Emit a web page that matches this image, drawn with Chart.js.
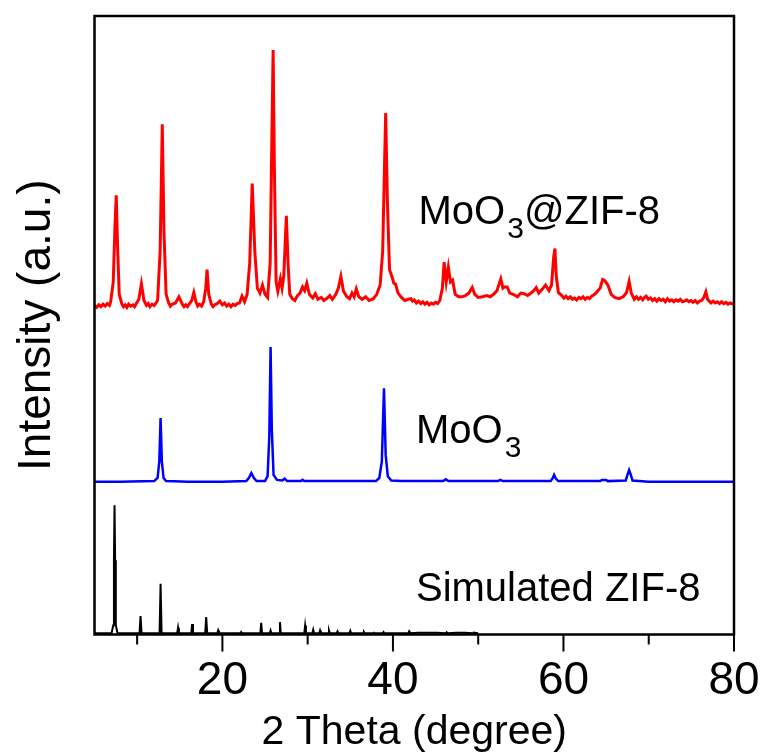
<!DOCTYPE html>
<html>
<head>
<meta charset="utf-8">
<script src="https://cdn.jsdelivr.net/npm/chart.js@4.4.1/dist/chart.umd.min.js"></script>
<style>
  html, body { margin: 0; padding: 0; background: #ffffff; }
  #wrap { width: 764px; height: 756px; }
</style>
</head>
<body>
<div id="wrap"><canvas id="xrd" width="764" height="756"></canvas></div>
<script>
"use strict";

// axis ticks (degrees)
var majorTicks = [20, 40, 60, 80];
var minorTicks = [10, 30, 50, 70];

// curve names, text and where the text sits (degree, intensity)
var labelParts = [
    [["MoO", ""], ["3", "sub"], ["@ZIF-8", ""]],
    [["MoO", ""], ["3", "sub"]],
    [["Simulated ZIF-8", ""]]
];
var labelAt = [[43.0, 66.4], [42.7, 31.0], [42.7, 5.4]];

// MoO3@ZIF-8 pattern, stacked on top  [2theta, intensity]
var mixPattern = [
    [5.0,53.2],[5.25,52.9],[5.5,53.3],[5.75,53.0],[6.0,53.4],[6.25,53.1],[6.5,53.5],[6.75,53.2],[6.9,53.8],
    [7.2,57],[7.4,66],[7.55,71],[7.7,63],[7.9,55],
    [8.2,53.5],[8.4,53.0],[8.6,53.3],[8.8,52.9],[9.0,53.4],[9.25,53.1],[9.5,53.3],[9.7,53.0],[9.9,53.5],
    [10.2,54.2],[10.5,56.7],[10.8,54],[11.1,53.2],[11.3,53.5],[11.5,53.0],[11.75,53.4],[12.0,53.2],
    [12.4,54],[12.7,62],[12.95,82.5],[13.15,65],[13.4,55],[13.7,53.6],[13.9,53.1],[14.1,53.4],
    [14.5,53.6],[14.9,54.6],[15.3,53.4],[15.5,53.0],[15.7,53.3],[15.9,53.0],[16.1,53.4],[16.4,54],[16.65,55.3],[16.9,53.8],
    [17.1,53.1],[17.3,53.4],[17.55,53.1],[17.8,53.8],[18.05,56],[18.2,59],[18.4,55],[18.7,53.4],[18.9,53.0],[19.1,53.3],
    [19.4,53.5],[19.7,53.9],
    [20.0,53.3],[20.25,53.6],[20.5,53.1],[20.75,53.4],[21.0,53.0],[21.25,53.4],[21.5,53.2],[21.75,53.5],[22.0,53.6],
    [22.3,54.7],[22.6,53.8],[22.9,55],[23.2,60],
    [23.5,72.9],[23.8,62],[24.1,56],[24.4,55.2],[24.7,56.5],[25.0,55],[25.3,54.5],[25.6,60],[25.8,80],
    [25.95,94.5],[26.1,75],[26.3,57],[26.5,55.5],[26.8,57.5],[27.0,56],[27.2,58],[27.5,67.7],[27.7,60],
    [27.9,55],[28.2,54.3],[28.5,54.0],[28.8,54.8],[29.1,55.2],[29.4,56.2],[29.65,55.6],[29.9,56.8],[30.2,55],
    [30.6,54.4],[30.9,55.1],[31.2,54.2],[31.6,54.5],[31.9,54.0],[32.3,54.4],[32.6,54.8],[32.9,54.2],[33.3,55],
    [33.6,56],[33.9,57.9],[34.2,55.5],[34.6,54.6],[34.9,54.3],[35.2,55.2],[35.45,54.6],[35.7,55.9],[36.0,54.6],
    [36.4,54.2],[36.8,54.6],[37.2,54.0],[37.7,54.3],[38.1,55],[38.5,56.5],[38.8,62],[39.0,75],[39.15,84.3],
    [39.35,70],[39.6,59],[39.9,57.8],[40.1,56.8],[40.3,56.7],[40.6,55.2],[41.0,54.5],[41.4,54.0],[41.8,54.2],
    [42.1,54.3],[42.3,53.9],[42.5,54.1],[42.75,53.6],[43.0,53.9],[43.25,53.5],[43.5,53.8],[43.75,53.4],[44.0,53.7],
    [44.25,53.3],[44.5,53.6],[44.75,53.4],[45.0,53.7],[45.25,53.5],[45.5,54],[45.8,56],
    [46.0,60.2],[46.25,57],[46.5,59.4],[46.75,57],[47.0,57.3],[47.3,55],[47.7,54.6],[48.1,54.6],[48.5,54.8],
    [48.9,55.2],[49.3,56.1],[49.6,55],[50.0,54.5],[50.5,54.6],[51.0,54.8],[51.4,54.6],[51.8,55],[52.2,55.6],
    [52.65,57.5],[52.9,56],[53.1,56.2],[53.4,56.2],[53.7,55.2],[54.1,55],[54.6,54.6],[55.0,55.2],[55.4,55.1],
    [55.8,54.8],[56.2,55.2],[56.5,55.6],[56.8,56.1],[57.1,55.2],[57.5,55.8],[57.9,56.5],[58.3,55.6],[58.6,56.5],
    [58.85,61],[59.0,62.4],[59.15,58],[59.4,55.3],
    [59.8,54.8],[60.05,54.4],[60.3,54.7],[60.55,54.3],[60.8,54.6],[61.05,54.2],[61.3,54.4],[61.55,54.1],[61.8,54.5],
    [62.05,54.3],[62.3,54.6],[62.55,54.2],[62.8,54.5],[63.05,54.3],[63.3,54.7],[63.55,54.9],[63.8,55.2],
    [64.3,56],[64.6,57.4],[64.85,57.2],[65.2,56.5],[65.6,55],
    [66.0,54.5],[66.5,54.3],[67.0,54.6],[67.4,55.3],[67.7,57.1],[67.95,55.2],
    [68.3,54.2],[68.55,54.6],[68.8,54.2],[69.05,54.5],[69.3,54.1],[69.5,54.5],[69.7,54.7],[69.95,54.2],[70.2,54.4],
    [70.45,54.0],[70.7,54.3],[70.95,53.9],[71.2,54.3],[71.45,54.0],[71.7,54.2],[71.95,53.8],[72.2,54.3],[72.45,53.9],
    [72.7,54.1],[72.95,53.8],[73.2,54.1],[73.45,53.9],[73.7,54.2],[73.95,53.8],[74.2,53.9],[74.45,54.1],[74.7,53.8],
    [74.95,54.0],[75.2,53.7],[75.45,54.0],[75.7,53.6],[75.95,53.9],[76.2,54.0],[76.5,54.6],[76.7,55.4],[76.9,54.2],
    [77.1,53.9],[77.3,53.6],[77.55,53.9],[77.8,53.6],[78.05,53.8],[78.3,53.5],[78.55,53.8],[78.8,53.5],[79.05,53.7],
    [79.3,53.4],[79.55,53.6],[80.0,53.4]
];

// MoO3 pattern, middle
var mooPattern = [
    [5.0,24.7],[8.0,24.7],[12.0,24.8],[12.4,25.3],[12.6,28],[12.75,35.0],[12.9,28],[13.1,25.3],[13.4,24.8],
    [16.0,24.7],[20.0,24.7],[22.8,24.8],[23.1,25.3],[23.4,26.1],[23.7,25.3],[24.0,24.8],[25.0,24.8],[25.3,25.6],
    [25.5,32],[25.65,46.5],[25.8,33],[26.0,25.8],[26.4,25.0],[27.0,24.9],[27.3,25.2],[27.6,24.8],[29.2,24.8],
    [29.4,25.0],[29.6,24.8],[38.0,24.8],[38.4,25.3],[38.7,28],[38.95,39.8],[39.15,29],[39.4,25.6],[39.8,24.9],
    [41.0,24.8],[45.9,24.8],[46.2,25.1],[46.5,24.8],[52.3,24.8],[52.6,25.0],[52.9,24.8],[58.5,24.8],[58.75,25.3],
    [58.9,25.8],[59.1,25.2],[59.4,24.8],[64.3,24.8],[64.5,25.0],[65.0,25.0],[65.2,24.8],[67.3,24.9],[67.55,26],
    [67.7,26.6],[67.9,25.8],[68.1,24.9],[70.0,24.7],[80.0,24.7]
];

// simulated ZIF-8 sticks, bottom
var simPattern = [
    [5.0,0.2],[7.0,0.2],[7.2,1.5],[7.28,12],[7.35,20.9],[7.42,12],[7.5,1.5],[7.7,0.2],
    [10.28,0.2],[10.4,3.0],[10.52,0.2],[12.63,0.2],[12.75,8.2],[12.87,0.2],[14.7,0.2],[14.8,1.1],[14.9,0.2],
    [16.35,0.2],[16.45,1.7],[16.55,0.2],[17.98,0.2],[18.1,2.8],[18.22,0.2],[19.4,0.2],[19.5,0.65],[19.6,0.2],
    [22.1,0.2],[22.2,0.4],[22.3,0.2],[24.45,0.2],[24.55,1.9],[24.65,0.2],[25.55,0.2],[25.65,0.65],[25.75,0.2],
    [26.65,0.2],[26.75,2.0],[26.85,0.2],[29.6,0.2],[29.7,1.45],[29.8,0.2],[30.55,0.2],[30.65,0.76],[30.75,0.2],
    [31.35,0.2],[31.45,0.65],[31.55,0.2],[32.4,0.2],[32.5,0.65],[32.6,0.2],[33.4,0.2],[33.5,0.5],[33.6,0.2],
    [34.9,0.2],[35.0,0.6],[35.1,0.2],[36.5,0.2],[36.6,0.4],[36.7,0.2],[37.7,0.2],[37.8,0.3],[37.9,0.2],
    [38.8,0.2],[38.9,0.4],[39.0,0.2],[41.8,0.2],[41.9,0.5],[42.0,0.2],[43.0,0.3],[44.1,0.3],[45.2,0.3],
    [46.2,0.2],[46.3,0.35],[46.4,0.2],[47.4,0.3],[48.4,0.3],[49.4,0.2],[49.5,0.3],[50.0,0.2]
];

function toPoints(list) {
    return list.map(function (p) { return { x: p[0], y: p[1] }; });
}

var FONT = '"Liberation Sans", Arial, sans-serif';

var framePlugin = {
    id: "framePlugin",
    afterDatasetsDraw: function (chart) {
        var ctx = chart.ctx;
        var a = chart.chartArea;
        var xs = chart.scales.x;
        var ys = chart.scales.y;

        ctx.save();
        ctx.strokeStyle = "#000";
        ctx.lineWidth = 2.5;
        ctx.strokeRect(a.left, a.top, a.right - a.left, a.bottom - a.top);

        // ticks below the axis
        ctx.lineWidth = 2;
        majorTicks.forEach(function (v) {
            var px = xs.getPixelForValue(v);
            ctx.beginPath();
            ctx.moveTo(px, a.bottom);
            ctx.lineTo(px, a.bottom + 17);
            ctx.stroke();
        });
        minorTicks.forEach(function (v) {
            var px = xs.getPixelForValue(v);
            ctx.beginPath();
            ctx.moveTo(px, a.bottom);
            ctx.lineTo(px, a.bottom + 10);
            ctx.stroke();
        });

        // curve names
        ctx.fillStyle = "#000";
        ctx.textBaseline = "alphabetic";
        ctx.textAlign = "left";
        labelParts.forEach(function (parts, i) {
            var px = xs.getPixelForValue(labelAt[i][0]);
            var py = ys.getPixelForValue(labelAt[i][1]);
            parts.forEach(function (part) {
                if (part[1] === "sub") {
                    ctx.font = "30px " + FONT;
                    ctx.fillText(part[0], px + 2, py + 14);
                    px += ctx.measureText(part[0]).width + 2;
                } else {
                    ctx.font = "40px " + FONT;
                    ctx.fillText(part[0], px, py);
                    px += ctx.measureText(part[0]).width;
                }
            });
        });
        ctx.restore();
    }
};

var ctx0 = document.getElementById("xrd");
var myChart = new Chart(ctx0, {
    type: "line",
    data: {
        datasets: [
            { label: "MoO3@ZIF-8", data: toPoints(mixPattern), borderColor: "#ff0000", borderWidth: 3 },
            { label: "MoO3", data: toPoints(mooPattern), borderColor: "#0000ff", borderWidth: 2.5 },
            { label: "Simulated ZIF-8", data: toPoints(simPattern), borderColor: "#000000", borderWidth: 2 }
        ]
    },
    options: {
        responsive: false,
        animation: false,
        events: [],
        datasets: { line: { pointRadius: 0, tension: 0, fill: false } },
        layout: { padding: { top: 16, right: 30, left: 0, bottom: 0 } },
        plugins: { legend: { display: false }, tooltip: { enabled: false } },
        scales: {
            x: {
                type: "linear",
                min: 5,
                max: 80,
                afterBuildTicks: function (scale) {
                    scale.ticks = majorTicks.map(function (v) { return { value: v }; });
                },
                afterFit: function (scale) {
                    scale.height = 121.5;
                    scale.paddingLeft = 0;
                    scale.paddingRight = 0;
                },
                grid: { display: false, drawTicks: false },
                border: { display: false },
                ticks: {
                    autoSkip: false,
                    maxRotation: 0,
                    padding: 19,
                    color: "#000",
                    font: { family: FONT, size: 46 }
                },
                title: {
                    display: true,
                    text: "2 Theta (degree)",
                    color: "#000",
                    font: { family: FONT, size: 41, lineHeight: 1 },
                    padding: { top: 0, bottom: 3 }
                }
            },
            y: {
                min: 0,
                max: 100,
                afterFit: function (scale) { scale.width = 94.5; },
                grid: { display: false, drawTicks: false },
                border: { display: false },
                ticks: { display: false },
                title: {
                    display: true,
                    text: "Intensity (a.u.)",
                    color: "#000",
                    font: { family: FONT, size: 46, lineHeight: 1.2 },
                    padding: { top: 9.5, bottom: 0 }
                }
            }
        }
    },
    plugins: [framePlugin]
});
</script>
</body>
</html>
